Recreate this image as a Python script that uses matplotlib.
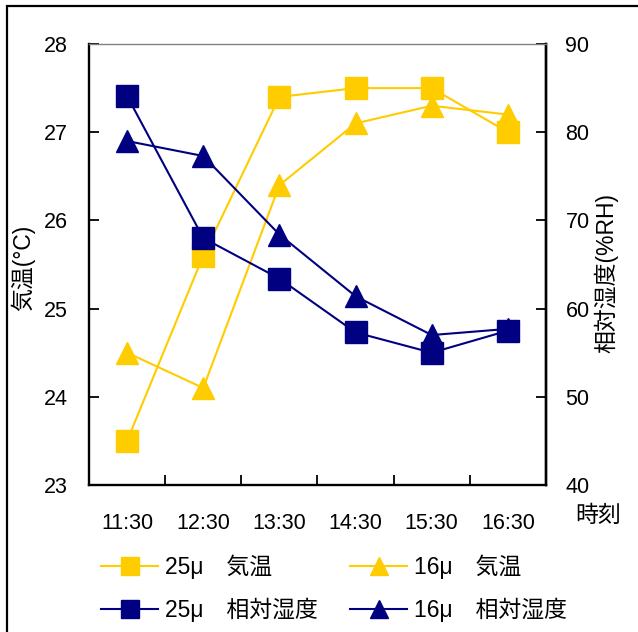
import matplotlib
matplotlib.use("Agg")
import matplotlib.pyplot as plt
from matplotlib.lines import Line2D
from matplotlib.patches import Rectangle

plt.rcParams['font.family'] = ['Liberation Sans', 'Noto Sans CJK JP', 'DejaVu Sans']

# Hourly readings
times = ["11:30", "12:30", "13:30", "14:30", "15:30", "16:30"]
temp_25 = [23.5, 25.6, 27.4, 27.5, 27.5, 27.0]
temp_16 = [24.5, 24.1, 26.4, 27.1, 27.3, 27.2]
rh_25 = [84.1, 68.0, 63.4, 57.3, 55.0, 57.5]
rh_16 = [79.0, 77.3, 68.4, 61.4, 57.0, 57.7]

labels = ["25\u03bc\u3000気温", "16\u03bc\u3000気温",
          "25\u03bc\u3000相対湿度", "16\u03bc\u3000相対湿度"]

YELLOW = "#FFCC00"
NAVY = "#000080"
FS = 15.5
FS_JP = 16.5

W, H = 638, 632
fig = plt.figure(figsize=(W / 100, H / 100), dpi=100)
ax = fig.add_axes([89 / W, 1 - 485 / H, (546 - 89) / W, (485 - 44) / H])
ax2 = ax.twinx()

x = list(range(len(times)))
ms = 15.5
lw = 1.5

ax.plot(x, temp_16, color=YELLOW, lw=lw, marker="^", ms=ms, clip_on=False)
ax.plot(x, temp_25, color=YELLOW, lw=lw, marker="s", ms=ms, clip_on=False)
ax2.plot(x, rh_16, color=NAVY, lw=lw, marker="^", ms=ms, clip_on=False)
ax2.plot(x, rh_25, color=NAVY, lw=lw, marker="s", ms=ms, clip_on=False)

ax.set_xlim(-0.5, len(times) - 0.5)
ax.set_ylim(23, 28)
ax2.set_ylim(40, 90)
ax.set_yticks(range(23, 29))
ax2.set_yticks(range(40, 91, 10))

# category boundaries carry the ticks, labels sit between them
ax.set_xticks([i + 0.5 for i in x])
ax.set_xticklabels([])
ax.set_xticks(x, minor=True)
ax.set_xticklabels(times, minor=True)
ax.tick_params(axis="x", which="major", direction="in", length=7, width=1.3, color="black")
ax.tick_params(axis="x", which="minor", length=0, pad=20, labelsize=FS)
ax.tick_params(axis="y", direction="in", length=7, width=1.3, pad=15, labelsize=FS)
ax2.tick_params(axis="y", direction="in", length=7, width=1.3, pad=14, labelsize=FS)

for a in (ax, ax2):
    for s in a.spines.values():
        s.set_linewidth(1.7)
        s.set_color("black")
ax.spines["top"].set_visible(False)
ax2.spines["top"].set_color("#808080")
ax2.spines["top"].set_linewidth(1.0)
ax2.spines["left"].set_visible(False)
ax2.spines["bottom"].set_visible(False)

fig.text(23 / W, 1 - 268 / H, "気温(°C)", rotation=90, ha="center", va="center", fontsize=FS_JP)
fig.text(606 / W, 1 - 273 / H, "相対湿度(%RH)", rotation=90, ha="center", va="center", fontsize=FS_JP)
fig.text(598 / W, 1 - 515 / H, "時刻", ha="center", va="center", fontsize=FS_JP)

lms = 13
handles = [
    Line2D([], [], color=YELLOW, lw=lw, marker="s", ms=lms),
    Line2D([], [], color=NAVY, lw=lw, marker="s", ms=lms),
    Line2D([], [], color=YELLOW, lw=lw, marker="^", ms=lms),
    Line2D([], [], color=NAVY, lw=lw, marker="^", ms=lms),
]
leg_labels = [labels[0], labels[2], labels[1], labels[3]]
fig.legend(handles, leg_labels, ncol=2, loc="upper left",
           bbox_to_anchor=(101 / W, 1 - 555 / H), frameon=False, fontsize=FS_JP,
           handlelength=2.5, handletextpad=0.3, columnspacing=1.4,
           labelspacing=0.8, borderpad=0, borderaxespad=0)

# outer frame
fig.patches.append(Rectangle((7 / W, -0.05), 1.2, 1 - 6 / H + 0.05,
                             transform=fig.transFigure, fill=False,
                             edgecolor="black", lw=1.6))

fig.savefig("out.png", dpi=100)
